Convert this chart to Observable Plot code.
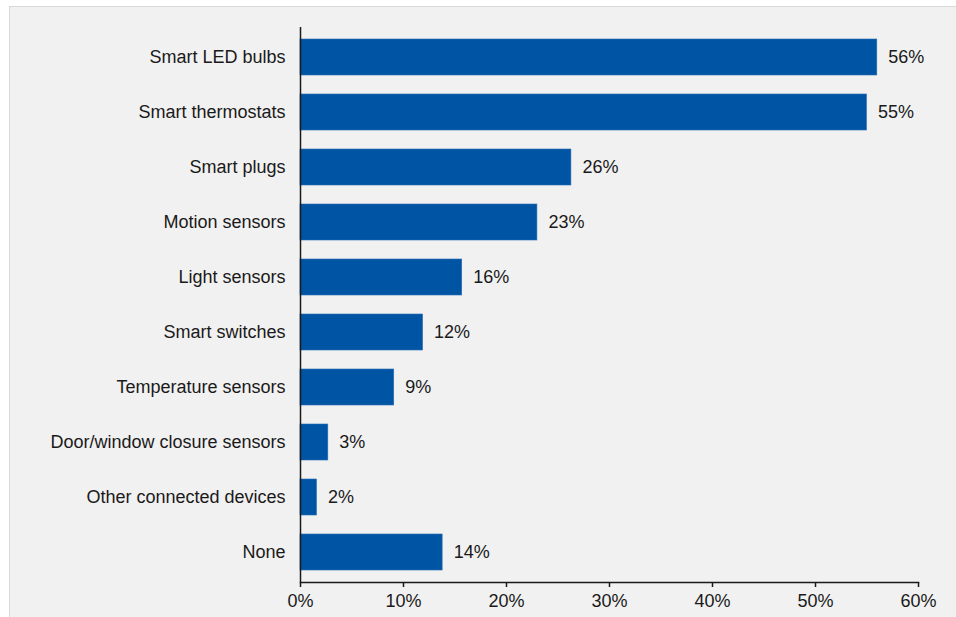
<!DOCTYPE html>
<html>
<head>
<meta charset="utf-8">
<script src="https://cdn.jsdelivr.net/npm/d3@7"></script>
<script src="https://cdn.jsdelivr.net/npm/@observablehq/plot@0.6"></script>
<style>
  html, body { margin: 0; padding: 0; background: #ffffff; }
  #frame {
    position: absolute; left: 9px; top: 6px;
    width: 947px; height: 611px;
    background: #f1f1f1;
    border-top: 1px solid #d9d9d9;
    border-left: 1px solid #d9d9d9;
    overflow: hidden;
  }
  svg { display: block; }
</style>
</head>
<body>
<div id="frame"></div>
<script>
const categories = [
  "Smart LED bulbs",
  "Smart thermostats",
  "Smart plugs",
  "Motion sensors",
  "Light sensors",
  "Smart switches",
  "Temperature sensors",
  "Door/window closure sensors",
  "Other connected devices",
  "None"
];
const values = [56, 55, 26.3, 23, 15.7, 11.9, 9.1, 2.7, 1.6, 13.8];
const valueLabels = ["56%", "55%", "26%", "23%", "16%", "12%", "9%", "3%", "2%", "14%"];
const xTicks = [0, 10, 20, 30, 40, 50, 60];

const data = categories.map((c, i) => ({category: c, value: values[i], label: valueLabels[i]}));

const chart = Plot.plot({
  width: 947,
  height: 611,
  marginLeft: 290,
  marginRight: 39,
  marginTop: 20,
  marginBottom: 36,
  style: {background: "transparent", fontFamily: "'Liberation Sans', Arial, sans-serif", fontSize: "18px", color: "#1a1a1a"},
  x: {domain: [0, 60], label: null},
  y: {domain: categories, label: null, paddingInner: 0.35, paddingOuter: 0.175},
  marks: [
    Plot.barX(data, {x: "value", y: "category", fill: "#0054a4", stroke: "#2a6db3", strokeWidth: 0.6}),
    Plot.text(data, {x: "value", y: "category", text: "label", textAnchor: "start", dx: 11, fill: "#1a1a1a", fontSize: 18}),
    Plot.axisX({ticks: xTicks, tickFormat: d => d + "%", tickSize: 5, tickPadding: 7, stroke: "#1a1a1a", strokeWidth: 1.5, strokeOpacity: 1, label: null, fontSize: 18}),
    Plot.axisY({tickSize: 0, tickPadding: 15, label: null, fontSize: 18}),
    Plot.frame({anchor: "bottom", stroke: "#1a1a1a", strokeWidth: 1.5}),
    Plot.ruleX([0], {stroke: "#1a1a1a", strokeWidth: 1.5})
  ]
});
document.getElementById("frame").appendChild(chart);
</script>
</body>
</html>
